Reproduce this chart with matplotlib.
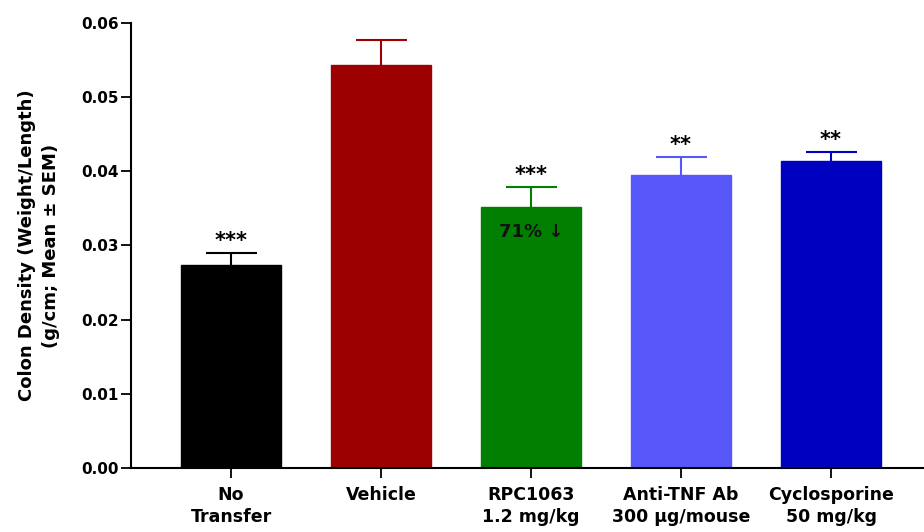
import numpy as np
import matplotlib
matplotlib.use('Agg')
import matplotlib.pyplot as plt
from matplotlib.ticker import FormatStrFormatter

plt.rcParams['font.family'] = ['DejaVu Sans']
plt.rcParams['font.weight'] = 'bold'

groups = ['No\nTransfer', 'Vehicle', 'RPC1063\n1.2 mg/kg',
          'Anti-TNF Ab\n300 µg/mouse', 'Cyclosporine\n50 mg/kg']
means = [0.0274, 0.0543, 0.0352, 0.0395, 0.0414]
sems = [0.0016, 0.0034, 0.0027, 0.0024, 0.0012]
stars = ['***', '', '***', '**', '**']
colors = ['#000000', '#9c0000', '#007f00', '#5858fa', '#0000c0']

fig = plt.figure(figsize=(9.24, 5.32), dpi=100)
ax = fig.add_axes([0.1418, 0.1203, 0.8582, 0.8365])

x = np.arange(len(groups))
means = np.array(means)
sems = np.array(sems)
ax.bar(x, means, width=0.667, color=colors, edgecolor=colors, linewidth=1,
       zorder=2)
# upper-only SEM whiskers
ax.vlines(x, means, means + sems, colors=colors, linewidth=1.5, zorder=1)
ax.hlines(means + sems, x - 0.17, x + 0.17, colors=colors, linewidth=1.5,
          zorder=1)

for xi, top, st in zip(x, means + sems, stars):
    if st:
        ax.text(xi, top + 0.0003, st, ha='center', va='bottom',
                fontsize=15, fontweight='bold')

ax.text(x[2], 0.0318, '71% ↓', ha='center', va='center', fontsize=13,
        fontweight='bold', color='#111111')

ax.set_xlim(-0.667, 4.62)
ax.set_ylim(0, 0.06)
ax.set_yticks(np.arange(0, 0.061, 0.01))
ax.yaxis.set_major_formatter(FormatStrFormatter('%.2f'))
ax.set_xticks(x)
ax.set_xticklabels(groups, fontsize=12.5, fontweight='bold', linespacing=1.25)
ax.tick_params(axis='x', direction='out', length=7, width=1.3, pad=6)
ax.tick_params(axis='y', direction='out', length=7, width=1.3, pad=2,
               labelsize=11)

ax.spines['top'].set_visible(False)
ax.spines['right'].set_visible(False)
ax.spines['left'].set_linewidth(1.5)
ax.spines['bottom'].set_linewidth(1.5)

ax.set_ylabel('Colon Density (Weight/Length)\n(g/cm; Mean ± SEM)',
              fontsize=13, fontweight='bold', labelpad=15, linespacing=1.4)

fig.savefig('out.png', dpi=100)
